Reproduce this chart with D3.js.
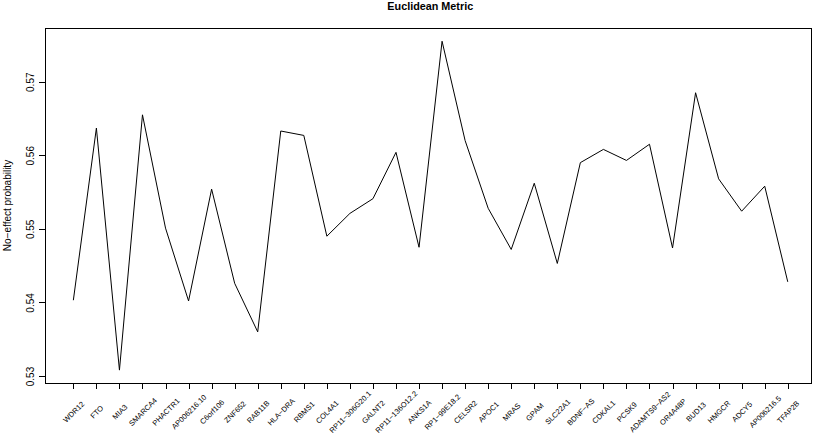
<!DOCTYPE html>
<html>
<head>
<meta charset="utf-8">
<script src="https://cdn.jsdelivr.net/npm/d3@7"></script>
<style>
  html, body { margin: 0; padding: 0; background: #fff; }
  svg { display: block; font-family: "Liberation Sans", Arial, Helvetica, sans-serif; }
</style>
</head>
<body>
<svg id="chart" width="817" height="436"></svg>
<script>
// ---- data ----
const genes = ["WDR12","FTO","MIA3","SMARCA4","PHACTR1","AP006216.10","C6orf106","ZNF652",
  "RAB11B","HLA\u2212DRA","RBMS1","COL4A1","RP11\u2212306G20.1","GALNT2","RP11\u2212136O12.2","ANKS1A",
  "RP1\u221299E18.2","CELSR2","APOC1","MRAS","GPAM","SLC22A1","BDNF\u2212AS","CDKAL1",
  "PCSK9","ADAMTS9\u2212AS2","OR4A48P","BUD13","HMGCR","ADCY5","AP006216.5","TFAP2B"];
const probability = [0.5403,0.5637,0.5308,0.5655,0.5501,0.5402,0.5554,0.5426,
  0.5360,0.5633,0.5627,0.5490,0.5521,0.5541,0.5604,0.5475,
  0.5755,0.5620,0.5528,0.5472,0.5562,0.5453,0.5590,0.5608,
  0.5593,0.5615,0.5474,0.5685,0.5568,0.5524,0.5558,0.5428];
const yTicks = [0.53, 0.54, 0.55, 0.56, 0.57];
const titleText = "Euclidean Metric";
const yTitle = "No\u2212effect probability";

// ---- layout ----
const svg = d3.select("#chart");
const plot = { left: 45, right: 811.5, top: 28, bottom: 383 };

const x = d3.scaleLinear().domain([-1.23, 32.03]).range([plot.left, plot.right]);
const y = d3.scaleLinear().domain([0.52905, 0.5773]).range([plot.bottom, plot.top]);

svg.append("rect").attr("width", 817).attr("height", 436).attr("fill", "#fff");

// line
const line = d3.line().x((d, i) => x(i)).y(d => y(d));
svg.append("path")
  .datum(probability)
  .attr("d", line)
  .attr("fill", "none")
  .attr("stroke", "#000")
  .attr("stroke-width", 1);

// box
svg.append("rect")
  .attr("x", plot.left).attr("y", plot.top)
  .attr("width", plot.right - plot.left).attr("height", plot.bottom - plot.top)
  .attr("fill", "none").attr("stroke", "#000").attr("stroke-width", 1)
  .attr("shape-rendering", "crispEdges");

// y axis
const yAxis = d3.axisLeft(y).tickValues(yTicks).tickSize(6).tickFormat(d3.format(".2f"));
const gy = svg.append("g").attr("transform", `translate(${plot.left},0)`).call(yAxis);
gy.select(".domain").remove();
gy.selectAll(".tick line").attr("stroke", "#000").attr("shape-rendering", "crispEdges");
gy.selectAll(".tick text")
  .attr("font-size", "10px").attr("fill", "#000")
  .attr("x", null).attr("dy", null)
  .attr("text-anchor", "middle")
  .attr("transform", "translate(-10.7,0) rotate(-90)");

// x axis
const xAxis = d3.axisBottom(x).tickValues(d3.range(genes.length)).tickSize(6).tickFormat(i => genes[i]);
const gx = svg.append("g").attr("transform", `translate(0,${plot.bottom})`).call(xAxis);
gx.select(".domain").remove();
gx.selectAll(".tick line").attr("stroke", "#000").attr("shape-rendering", "crispEdges");
gx.selectAll(".tick text")
  .attr("font-size", "7.5px").attr("fill", "#000")
  .attr("y", null).attr("dy", null)
  .attr("text-anchor", "middle")
  .attr("dominant-baseline", "central")
  .attr("transform", "translate(0,29) rotate(-45)");

// title
svg.append("text")
  .attr("x", (plot.left + plot.right) / 2 + 2).attr("y", 10)
  .attr("text-anchor", "middle")
  .attr("font-size", "10.8px").attr("font-weight", "bold")
  .text(titleText);

// y title
svg.append("text")
  .attr("transform", `translate(11,${(plot.top + plot.bottom) / 2}) rotate(-90)`)
  .attr("text-anchor", "middle")
  .attr("font-size", "10px")
  .text(yTitle);
</script>
</body>
</html>
